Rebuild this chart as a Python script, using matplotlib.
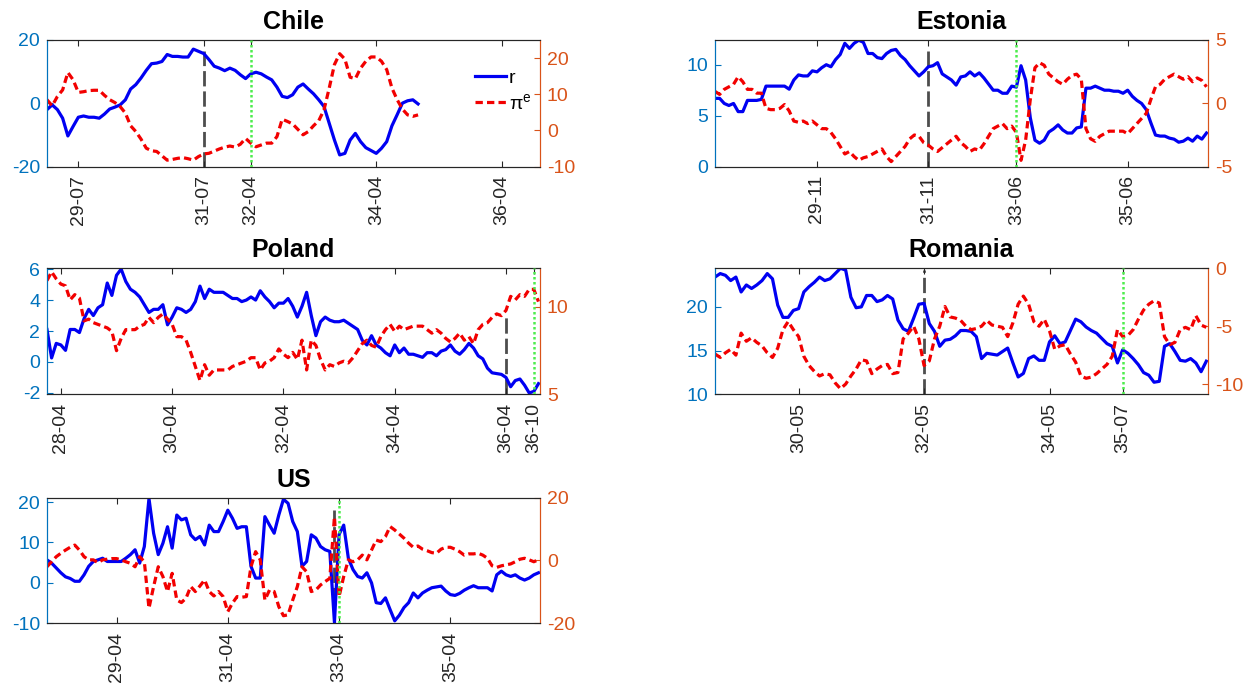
import matplotlib.pyplot as plt

plt.rcParams['font.family'] = ['Liberation Sans', 'DejaVu Sans']
plt.rcParams['mathtext.fontset'] = 'custom'
plt.rcParams['mathtext.rm'] = 'Liberation Sans'
plt.rcParams['mathtext.it'] = 'Liberation Sans:italic'
plt.rcParams['axes.unicode_minus'] = False

LEFT_C = (0.0, 0.447, 0.741)
RIGHT_C = (0.85, 0.325, 0.098)
AX_C = (0.15, 0.15, 0.15)
END = "36-11"

# ---- Chile (monthly from 29-01) ----
chile_start = "29-01"
chile_r = [-2, -0.5, -2, -4.7, -10.3, -7.3, -4.4, -4, -4.4, -4.4, -4.7, -3.4,
           -1.8, -1.2, -0.5, 1.1, 4.5, 5.9, 8, 10.4, 12.5, 12.7, 13.2, 15.4,
           14.8, 14.8, 14.6, 14.6, 17.1, 16.4, 15.7, 13.8, 11.7, 11.1, 10.3, 11.1,
           10.4, 9, 7.8, 9.3, 9.8, 9.3, 8.3, 7.4, 5.1, 2.2, 1.8, 2.7,
           5.1, 6.1, 4.5, 3, 1.1, -1, -6.3, -11.6, -16.3, -15.8, -11.6, -9.5,
           -12.1, -14, -14.9, -15.8, -14.2, -12.1, -7.1, -3.6, 0.05, 0.8, 1.1, -0.2]
chile_pi = [8.5, 6.8, 9.4, 11.2, 16, 14, 10.5, 10.7, 11, 11.1, 11.1, 9.7,
            8.5, 7.7, 6.6, 4.8, 1.3, -0.3, -2.4, -4.9, -5.6, -5.8, -7, -8.2,
            -8, -7.7, -7.5, -7.8, -8.2, -7.2, -6.5, -6.3, -5.7, -5.1, -4.6, -4.3,
            -4.6, -3.8, -2.2, -3.5, -4.5, -4, -3.5, -3.5, -1.7, 3.1, 2.5, 1.8,
            0.3, -1.2, -0.3, 1.3, 2.7, 5.7, 11.7, 18.2, 21.2, 19.7, 14.7, 14.3,
            17.2, 19.1, 20.3, 20.3, 19.1, 16.8, 11.7, 8.5, 5.9, 4.3, 3.9, 4.3]
chile_ticks = ["29-07", "31-07", "32-04", "34-04", "36-04"]
chile_events = ["31-07", "32-04"]

# ---- Estonia (monthly from 28-01) ----
estonia_start = "28-01"
estonia_r = [6.7, 6.7, 6.2, 6.0, 6.2, 5.4, 5.4, 6.5, 6.5, 6.5, 6.6, 7.9,
             7.9, 7.9, 7.9, 7.9, 7.6, 8.5, 9.0, 8.9, 8.9, 9.4, 9.3, 9.7,
             10.0, 9.8, 10.5, 11.0, 12.1, 11.6, 12.1, 12.4, 12.2, 11.1, 11.1, 10.7,
             10.6, 11.1, 11.4, 11.5, 10.9, 10.5, 9.9, 9.4, 8.9, 9.3, 9.8, 9.9,
             10.2, 9.1, 8.8, 8.5, 8.0, 8.8, 8.9, 9.3, 8.9, 9.2, 8.7, 8.1,
             7.5, 7.5, 7.2, 7.2, 7.9, 7.8, 9.9, 8.5, 4.8, 2.6, 2.3, 2.6,
             3.4, 3.7, 4.1, 3.6, 3.3, 3.3, 3.8, 3.9, 7.7, 7.7, 7.9, 7.7,
             7.5, 7.5, 7.4, 7.4, 7.2, 7.5, 6.9, 6.5, 6.2, 5.6, 4.3, 3.1,
             3.0, 3.0, 2.8, 2.7, 2.4, 2.5, 2.8, 2.5, 3.0, 2.7, 3.3]
estonia_pi = [0.94, 0.7, 1.1, 1.3, 1.5, 2.1, 1.7, 1.1, 1.1, 0.8, 0.8, -0.4,
              -0.5, -0.5, -0.4, -0.1, -0.6, -1.4, -1.5, -1.4, -1.6, -1.4, -1.7, -2.0,
              -2.0, -2.3, -2.8, -3.4, -4.0, -3.8, -4.2, -4.5, -4.3, -4.2, -4.0, -3.8,
              -3.6, -4.2, -4.6, -4.2, -3.8, -3.4, -2.8, -2.5, -2.6, -3.1, -3.3, -3.6,
              -3.8, -3.5, -3.2, -2.9, -2.6, -3.1, -3.4, -3.8, -3.6, -3.7, -3.2, -2.6,
              -2.0, -1.8, -1.6, -2.0, -1.8, -2.3, -4.5, -2.9, 0.3, 2.8, 3.2, 3.0,
              2.3, 2.0, 1.7, 1.5, 1.9, 2.2, 2.3, 1.9, -2.0, -2.8, -3.0, -2.6,
              -2.4, -2.2, -2.2, -2.2, -2.2, -2.4, -2.0, -1.6, -1.2, -0.8, 0.3, 1.3,
              1.5, 1.9, 2.1, 2.3, 2.1, 1.9, 2.1, 1.7, 2.0, 1.8, 1.3]
estonia_ticks = ["29-11", "31-11", "33-06", "35-06"]
estonia_events = ["31-11", "33-06"]

# ---- Poland (monthly from 28-01) ----
poland_start = "28-01"
poland_r = [2.1, 0.26, 1.2, 1.1, 0.75, 2.1, 2.1, 1.9, 2.8, 3.4, 3.0, 3.5,
            3.7, 5.1, 4.3, 5.6, 6.0, 5.2, 4.7, 4.5, 4.2, 3.7, 3.2, 3.4,
            3.4, 3.7, 2.4, 2.9, 3.5, 3.4, 3.2, 3.4, 3.9, 4.9, 4.1, 4.7,
            4.5, 4.5, 4.5, 4.3, 4.1, 4.1, 3.9, 4.0, 4.2, 4.0, 4.6, 4.2,
            3.9, 3.5, 3.8, 3.8, 4.1, 3.6, 2.9, 3.6, 4.5, 3.0, 1.7, 2.6,
            2.9, 2.7, 2.6, 2.6, 2.7, 2.5, 2.3, 2.1, 1.4, 1.1, 1.7, 1.1,
            0.9, 0.6, 0.4, 1.1, 0.6, 0.9, 0.5, 0.5, 0.4, 0.3, 0.6, 0.6,
            0.4, 0.7, 0.8, 1.1, 0.7, 0.5, 0.8, 1.2, 0.9, 0.4, 0.2, -0.4,
            -0.7, -0.75, -0.8, -1.0, -1.6, -1.2, -1.1, -1.5, -2.0, -1.9, -1.4]
poland_pi = [11.5, 12.0, 11.6, 11.3, 11.2, 10.4, 10.7, 10.5, 9.2, 9.3, 9.1, 9.0,
             8.9, 8.8, 8.6, 7.5, 8.2, 8.7, 8.7, 8.7, 8.9, 9.0, 9.4, 9.1,
             9.4, 9.6, 9.3, 9.0, 8.3, 8.3, 8.1, 7.4, 6.6, 5.8, 6.7, 6.1,
             6.4, 6.4, 6.4, 6.4, 6.6, 6.7, 6.8, 6.9, 7.1, 7.1, 6.4, 6.8,
             6.9, 7.1, 7.6, 7.3, 7.1, 7.4, 7.0, 8.1, 6.4, 8.1, 7.8, 7.0,
             6.4, 6.7, 6.6, 6.8, 6.9, 6.8, 7.1, 7.5, 7.9, 8.1, 7.8, 7.7,
             8.3, 8.7, 9.0, 8.6, 8.9, 8.7, 8.8, 8.9, 8.9, 8.9, 8.7, 8.5,
             8.7, 8.5, 8.2, 8.0, 8.2, 8.5, 8.1, 8.3, 7.9, 8.7, 9.0, 9.1,
             9.4, 9.6, 9.5, 9.8, 10.6, 10.4, 10.7, 10.6, 11.0, 11.0, 10.3]
poland_ticks = ["28-04", "30-04", "32-04", "34-04", "36-04", "36-10"]
poland_events = ["36-04", "36-10"]

# ---- Romania (monthly from 29-01) ----
romania_start = "29-01"
romania_r = [23.4, 23.8, 23.6, 23.0, 23.4, 21.7, 22.5, 22.1, 22.5, 23.0, 23.8, 23.2,
             20.2, 18.8, 18.8, 19.6, 19.8, 21.7, 22.3, 22.8, 23.4, 23.0, 23.2, 23.8,
             24.4, 24.2, 21.1, 19.9, 20.0, 21.3, 21.3, 20.6, 20.8, 21.3, 20.9, 18.5,
             17.5, 17.2, 18.7, 20.3, 20.4, 18.1, 17.2, 15.5, 16.2, 16.3, 16.7, 17.3,
             17.3, 17.2, 16.6, 14.1, 14.7, 14.6, 14.5, 14.9, 15.3, 13.6, 12.0, 12.4,
             14.1, 14.4, 13.9, 13.9, 16.0, 16.7, 15.8, 16.0, 17.3, 18.6, 18.3, 17.7,
             17.3, 17.0, 16.4, 15.8, 15.5, 13.6, 15.1, 14.7, 14.1, 13.4, 12.5, 12.2,
             11.4, 11.5, 15.5, 15.8, 14.9, 13.9, 13.8, 14.1, 13.6, 12.6, 13.8]
romania_pi = [-7.4, -7.7, -7.3, -7.0, -7.5, -5.6, -6.3, -6.0, -6.4, -6.7, -7.3, -7.7,
              -6.9, -5.3, -4.6, -5.3, -5.9, -7.6, -8.4, -8.9, -9.3, -9.1, -9.2, -9.9,
              -10.4, -10.0, -9.3, -8.7, -7.9, -8.0, -9.1, -8.7, -8.4, -8.3, -9.1, -9.0,
              -6.1, -5.6, -5.0, -6.1, -8.4, -8.0, -6.1, -5.0, -3.3, -4.2, -4.3, -4.5,
              -5.0, -5.3, -5.2, -5.0, -4.5, -4.9, -5.0, -5.1, -5.9, -4.7, -3.1, -2.4,
              -3.1, -4.6, -5.0, -4.4, -5.4, -7.0, -6.7, -6.6, -7.4, -8.1, -9.3, -9.5,
              -9.4, -9.1, -8.7, -8.3, -7.6, -5.3, -5.9, -5.8, -5.3, -4.4, -3.6, -3.1,
              -2.8, -3.0, -5.9, -6.6, -6.4, -5.3, -5.1, -5.3, -4.1, -4.9, -5.1]
romania_ticks = ["30-05", "32-05", "34-05", "35-07"]
romania_events = ["32-05", "35-07"]

# ---- US (monthly from 28-01) ----
us_start = "28-01"
us_r = [5.7, 4.9, 3.7, 2.5, 1.5, 1.1, 0.4, 0.4, 2.0, 4.1, 5.3, 5.7,
        6.1, 5.3, 5.3, 5.3, 5.3, 6.1, 7.0, 8.2, 4.9, 9.0, 20.9, 12.3,
        7.0, 9.8, 13.9, 8.6, 16.8, 15.6, 16.0, 11.9, 10.7, 11.5, 9.4, 14.3,
        12.7, 12.7, 15.2, 18.0, 16.0, 13.5, 13.9, 13.9, 4.1, 1.2, 1.2, 16.4,
        14.3, 12.3, 16.8, 20.7, 19.7, 15.2, 12.7, 4.1, 5.3, 11.9, 11.1, 9.0,
        8.2, 7.8, -9.8, 12.0, 14.3, 6.1, 3.3, 1.6, 1.2, 2.5, 0.0, -4.9,
        -5.1, -3.7, -6.6, -9.4, -8.0, -6.1, -4.9, -2.5, -3.7, -2.5, -1.8, -1.2,
        -1.0, -0.8, -2.0, -2.9, -3.1, -2.6, -1.8, -1.2, -0.7, -1.2, -1.2, -1.2,
        -2.0, 2.0, 2.9, 2.0, 1.6, 2.0, 1.2, 0.7, 1.2, 2.0, 2.5]
us_pi = [-2.0, -0.4, 1.2, 2.3, 3.3, 4.2, 4.9, 3.3, 1.2, 0.2, 0.2, -0.7,
         0.2, 0.4, 0.6, 0.6, 0.2, -0.4, -0.9, -2.0, 1.2, -0.4, -15.2, -8.3,
         -2.0, -5.1, -9.9, -4.1, -12.6, -13.4, -12.0, -8.3, -9.9, -8.1, -6.2, -9.9,
         -11.3, -9.9, -11.5, -16.3, -13.6, -11.5, -11.7, -11.5, -2.0, 2.8, 0.2, -12.6,
         -9.4, -9.9, -14.7, -17.6, -17.3, -12.6, -8.3, -2.0, -3.6, -9.9, -9.4, -7.8,
         -6.7, -5.7, 13.9, -11.5, -5.1, 0.2, -0.4, 0.2, 1.7, 0.2, 3.3, 6.5,
         6.0, 7.6, 10.8, 9.7, 8.4, 7.1, 5.5, 4.2, 4.6, 3.6, 3.1, 2.5,
         2.3, 3.6, 4.2, 4.2, 3.6, 2.8, 1.7, 2.1, 2.1, 2.3, 1.7, 0.7,
         -1.7, -2.2, -1.7, -1.4, -1.1, -0.4, 0.4, 0.7, 0.2, -0.4, 0.2]
us_ticks = ["29-04", "31-04", "33-04", "35-04"]
us_events = ["33-03", "33-04"]


def to_month(label):
    yy, mm = label.split("-")
    return int(yy) * 12 + int(mm) - 1


fig = plt.figure(figsize=(12.59, 6.91), dpi=100)


def panel(rect, title, start, r, pi, ticks, events, black_top,
          ylim_l, yt_l, ylim_r, yt_r, legend=False):
    ax = fig.add_axes(rect)
    ax2 = ax.twinx()
    x0 = to_month(start)
    x = [x0 + i for i in range(len(r))]

    # policy dates: black dashed and green dotted markers
    ax.axvline(to_month(events[0]), ymin=0, ymax=black_top, color=(0.3, 0.3, 0.3),
               lw=2, ls=(0, (5.5, 1.8)), zorder=1)
    ln_r, = ax.plot(x, r, color=(0, 0, 0.95), lw=2.3, zorder=2)
    ln_pi, = ax2.plot(x, pi, color=(0.95, 0, 0), lw=2.3, ls=(0, (2.3, 1.3)), zorder=2)
    ax2.axvline(to_month(events[1]), color=(0.3, 0.93, 0.3), lw=1.8,
                ls=(0, (1, 1)), zorder=3)

    ax.set_xlim(x0, to_month(END) + 0.3)
    ax.set_xticks([to_month(t) for t in ticks])
    ax.set_xticklabels(ticks, rotation=90, fontsize=14, color=AX_C)
    ax.tick_params(axis='x', direction='in', top=True, length=4, pad=6, color=AX_C)

    ax.set_ylim(*ylim_l)
    ax.set_yticks(yt_l)
    ax.tick_params(axis='y', direction='in', length=4, labelsize=14,
                   colors=LEFT_C, pad=5)
    ax2.set_ylim(*ylim_r)
    ax2.set_yticks(yt_r)
    ax2.tick_params(axis='y', direction='in', length=4, labelsize=14,
                    colors=RIGHT_C, pad=5)

    for a in (ax, ax2):
        a.spines['top'].set_color(AX_C)
        a.spines['bottom'].set_color(AX_C)
        a.spines['left'].set_color(LEFT_C)
        a.spines['right'].set_color(RIGHT_C)
        for s in a.spines.values():
            s.set_linewidth(0.8)

    ax.set_title(title, fontsize=18, fontweight='bold', pad=8)

    if legend:
        ax2.legend([ln_r, ln_pi], ['r', 'π$^{\\mathrm{e}}$'], frameon=False,
                   fontsize=14, loc='upper left', bbox_to_anchor=(0.868, 0.77),
                   borderaxespad=0, borderpad=0, handlelength=1.6,
                   handletextpad=0.15, labelspacing=0.3)


LX, RX, W = 0.0373, 0.5679, 0.3915

panel([LX, 0.7588, W, 0.1834], "Chile", chile_start, chile_r, chile_pi,
      chile_ticks, chile_events, 0.91, (-20, 20), [-20, 0, 20],
      (-10, 25), [-10, 0, 10, 20], legend=True)
panel([RX, 0.7588, W, 0.1834], "Estonia", estonia_start, estonia_r, estonia_pi,
      estonia_ticks, estonia_events, 0.91, (0, 12.43), [0, 5, 10],
      (-5, 5), [-5, 0, 5])
panel([LX, 0.4291, W, 0.1826], "Poland", poland_start, poland_r, poland_pi,
      poland_ticks, poland_events, 0.64, (-2.1, 6.05), [-2, 0, 2, 4, 6],
      (5, 12.2), [5, 10])
panel([RX, 0.4291, W, 0.1826], "Romania", romania_start, romania_r, romania_pi,
      romania_ticks, romania_events, 0.985, (10, 24.4), [10, 15, 20],
      (-10.9, 0), [-10, -5, 0])
panel([LX, 0.098, W, 0.1818], "US", us_start, us_r, us_pi,
      us_ticks, us_events, 0.9, (-10, 21.1), [-10, 0, 10, 20],
      (-20, 20), [-20, 0, 20])

fig.savefig("out.png", dpi=100)
